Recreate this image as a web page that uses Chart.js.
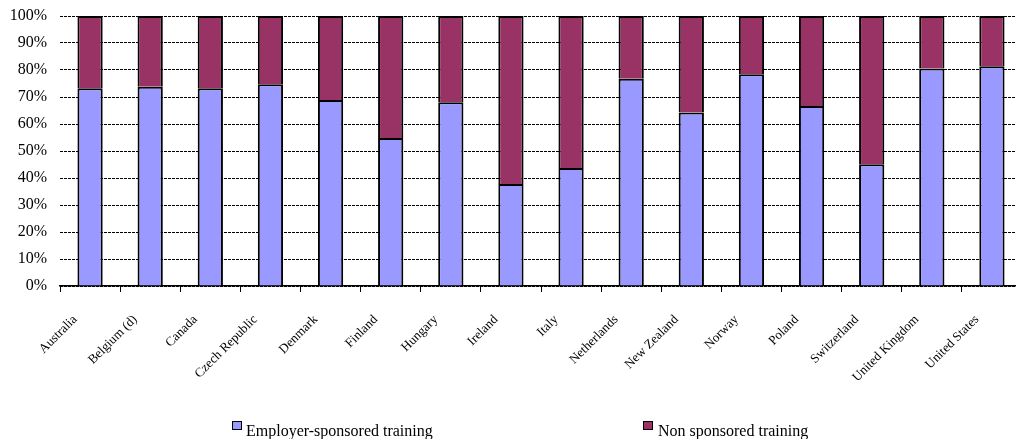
<!DOCTYPE html>
<html>
<head>
<meta charset="utf-8">
<script src="https://cdn.jsdelivr.net/npm/chart.js@4"></script>
<style>
  html,body{margin:0;padding:0;background:#fff;overflow:hidden;}
  #wrap{position:relative;width:1016px;height:439px;overflow:hidden;}
  #legend .item{position:absolute;top:423px;font:16px "Liberation Serif",serif;color:#000;line-height:16px;white-space:nowrap;}
  #legend .box{position:absolute;top:-2px;width:8px;height:7px;border:1.5px solid #000;}
</style>
</head>
<body>
<div id="wrap">
  <canvas id="chart" width="1030" height="439"></canvas>
  <div id="legend"></div>
</div>
<script>
const countries = ['Australia','Belgium (d)','Canada','Czech Republic','Denmark','Finland','Hungary','Ireland','Italy','Netherlands','New Zealand','Norway','Poland','Switzerland','United Kingdom','United States'];
const employer = [73.2,73.8,73.2,74.7,68.9,54.8,68.1,37.8,43.7,76.8,64.3,78.4,66.7,45.1,80.6,81.4];
const nonSponsored = employer.map(v => +(100 - v).toFixed(1));
const seriesNames = ['Employer-sponsored training','Non sponsored training'];
const seriesColors = ['#9999FF','#993366'];

const serif = '"Liberation Serif", "Times New Roman", serif';

const chart = new Chart(document.getElementById('chart'), {
  type:'bar',
  data:{
    labels:countries,
    datasets:[
      {label:seriesNames[0], data:employer, backgroundColor:seriesColors[0], borderColor:'#000', borderWidth:2, categoryPercentage:1, barPercentage:0.42},
      {label:seriesNames[1], data:nonSponsored, backgroundColor:seriesColors[1], borderColor:'#000', borderWidth:2, categoryPercentage:1, barPercentage:0.42}
    ]
  },
  options:{
    responsive:false,
    animation:false,
    layout:{padding:{top:16, right:8, bottom:0, left:0}},
    plugins:{legend:{display:false}, tooltip:{enabled:false}},
    scales:{
      x:{
        stacked:true,
        afterFit(s){ s.height = 153; s.paddingLeft = 0; s.paddingRight = 0; },
        grid:{display:true, drawOnChartArea:false, drawTicks:true, tickLength:6, color:'#000', lineWidth:1, offset:true},
        border:{display:true, color:'#000', width:1.5},
        ticks:{color:'#000', font:{family:serif, size:13}, minRotation:45, maxRotation:45, autoSkip:false, padding:20, labelOffset:-15}
      },
      y:{
        stacked:true, min:0, max:100,
        afterFit(s){ s.width = 60; s.paddingTop = 0; s.paddingBottom = 0; },
        grid:{color:'#000', lineWidth:1, drawTicks:false},
        border:{display:false, dash:[3,1]},
        ticks:{stepSize:10, color:'#000', font:{family:serif, size:16}, padding:13, callback:v => v + '%'}
      }
    }
  }
});

// legend as html, built from the datasets
const lx = [[232,246],[643,658]];
const legend = document.getElementById('legend');
chart.data.datasets.forEach((ds,i)=>{
  const it = document.createElement('div');
  it.className = 'item';
  it.style.left = lx[i][1] + 'px';
  it.innerHTML = `<span class="box" style="left:${lx[i][0]-lx[i][1]}px;background:${ds.backgroundColor}"></span>${ds.label}`;
  legend.appendChild(it);
});
</script>
</body>
</html>
